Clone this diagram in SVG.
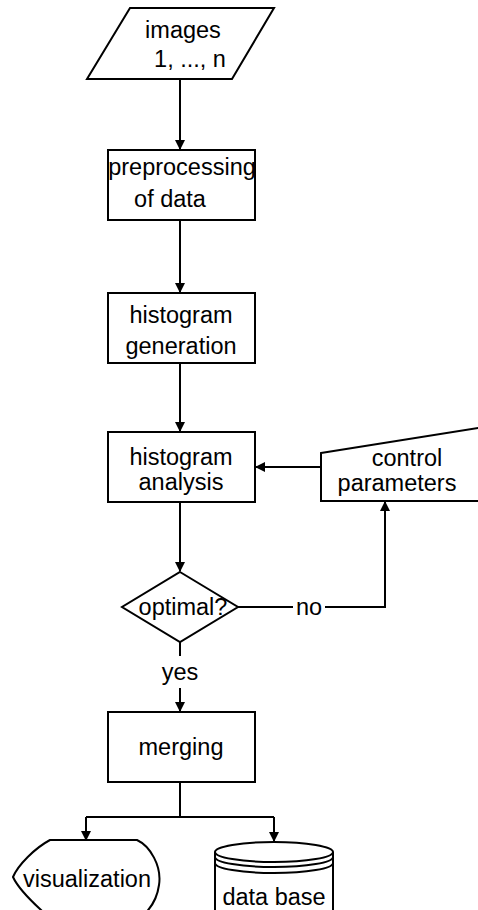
<svg xmlns="http://www.w3.org/2000/svg" width="478" height="910" viewBox="0 0 478 910">
<defs>
<marker id="ah" markerWidth="10" markerHeight="10" refX="9" refY="5" orient="auto" markerUnits="userSpaceOnUse">
<path d="M0,0 L10,5 L0,10 Z" fill="#000"/>
</marker>
<style>
.s{fill:#fff;stroke:#000;stroke-width:2}
.c{fill:none;stroke:#000;stroke-width:2}
text{font-family:"Liberation Sans",Arial,sans-serif;font-size:23.5px;fill:#000}
.m{text-anchor:middle}
</style>
</defs>
<rect width="478" height="910" fill="#fff"/>
<g id="connectors">
<path class="c" d="M180,79 V149" marker-end="url(#ah)"/>
<path class="c" d="M180,220 V292" marker-end="url(#ah)"/>
<path class="c" d="M180,363 V431" marker-end="url(#ah)"/>
<path class="c" d="M180,502 V571" marker-end="url(#ah)"/>
<path class="c" d="M321,467 H256" marker-end="url(#ah)"/>
<path class="c" d="M238,607 H293"/>
<path class="c" d="M325,607 H385 V502" marker-end="url(#ah)"/>
<path class="c" d="M180,642 V656"/>
<path class="c" d="M180,688 V711" marker-end="url(#ah)"/>
<path class="c" d="M180,782 V817 M86,817 H274"/>
<path class="c" d="M86,817 V840" marker-end="url(#ah)"/>
<path class="c" d="M274,817 V841" marker-end="url(#ah)"/>
<text x="309" y="615" class="m">no</text>
<text x="180" y="680" class="m">yes</text>
</g>
<g id="images">
<polygon class="s" points="130,8 274,8 232,79 87,79"/>
<text x="183" y="38" class="m">images</text>
<text x="190" y="67" class="m">1, ..., n</text>
</g>
<g id="preprocessing">
<rect class="s" x="108" y="150" width="147" height="70"/>
<text x="182" y="175" class="m">preprocessing</text>
<text x="170" y="207" class="m">of data</text>
</g>
<g id="histgen">
<rect class="s" x="108" y="293" width="147" height="70"/>
<text x="181" y="323" class="m">histogram</text>
<text x="181" y="354" class="m">generation</text>
</g>
<g id="histanalysis">
<rect class="s" x="108" y="432" width="147" height="70"/>
<text x="181" y="465" class="m">histogram</text>
<text x="181" y="490" class="m">analysis</text>
</g>
<g id="control">
<polygon class="s" points="321,453 490,426 490,501 321,501"/>
<text x="407" y="466" class="m">control</text>
<text x="397" y="491" class="m">parameters</text>
</g>
<g id="optimal">
<polygon class="s" points="180,572 238,607 180,642 122,607"/>
<text x="183" y="615" class="m">optimal?</text>
</g>
<g id="merging">
<rect class="s" x="108" y="712" width="147" height="70"/>
<text x="181" y="755" class="m">merging</text>
</g>
<g id="visualization">
<path class="s" d="M50,840 L137,840 C150,846 162,866 159,885 C157,900 150,910 140,918 L50,918 C35,905 18,888 13,877 C18,865 35,848 50,840 Z"/>
<text x="87" y="887" class="m">visualization</text>
</g>
<g id="database">
<path class="s" d="M215,852 A59,10 0 0 1 333,852 V920 H215 Z"/>
<path class="c" d="M215,852 A59,10 0 0 0 333,852 M215,857 A59,10 0 0 0 333,857 M215,863 A59,10 0 0 0 333,863"/>
<text x="274" y="905" class="m">data base</text>
</g>
</svg>
